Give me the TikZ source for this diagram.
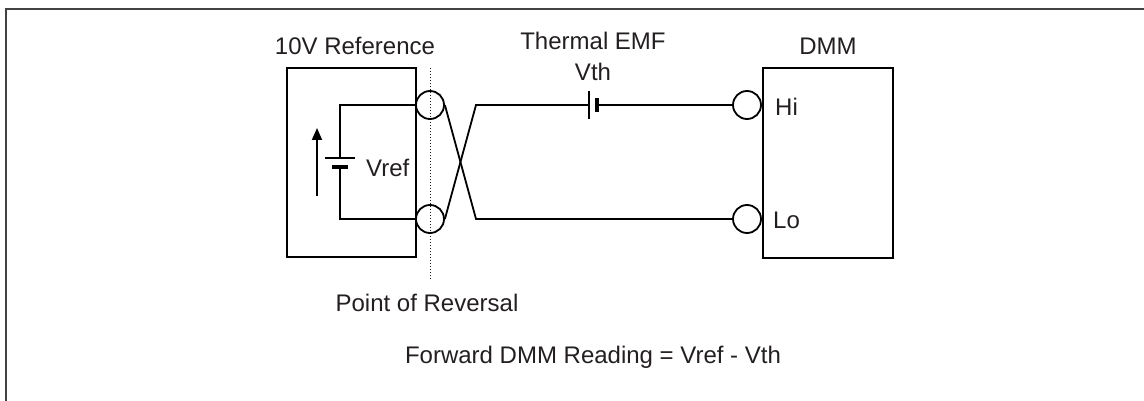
\documentclass[tikz,border=0pt]{standalone}
\usepackage{fontspec}
\setmainfont{Liberation Sans}
\usetikzlibrary{arrows.meta}
\definecolor{ink}{HTML}{231F20}
\begin{document}
\begin{tikzpicture}[x=1pt,y=-1pt,
  wire/.style={line width=1.8pt,draw=black},
  term/.style={circle,draw=black,line width=1.8pt,minimum size=28pt,inner sep=0pt},
  box/.style={draw=black,line width=1.8pt,inner sep=0pt},
  lbl/.style={text=ink,font=\fontsize{24}{28}\selectfont,inner sep=0pt}]
\useasboundingbox (0,0) rectangle (1144,401);
% frame
\draw[line width=2pt,draw=ink!85] (6,401) -- (6,9) -- (1144,9);
% boxes
\node[box,minimum width=129pt,minimum height=189pt] (ref) at (351.5,162.5) {};
\node[box,minimum width=130pt,minimum height=190pt] (dmm) at (828,163) {};
% labels
\node[lbl] (reflbl) at (355,46) {10V Reference};
\node[lbl] (dmmlbl) at (828,46) {DMM};
\node[lbl] (emf) at (593,41) {Thermal EMF};
\node[lbl] (vth) at (593,72) {Vth};
\node[lbl,anchor=west] (vref) at (366,168) {Vref};
\node[lbl,anchor=west] (hi) at (775,107) {Hi};
\node[lbl,anchor=west] (lo) at (773,220) {Lo};
\node[lbl] (por) at (427,303) {Point of Reversal};
\node[lbl] (fwd) at (593,357) {Forward DMM Reading = Vref - Vth};
% dotted reversal line
\draw[line width=1pt,dotted,draw=ink] (430,68) -- (430,280);
% terminals
\node[term] (t1) at (430,105) {};
\node[term] (t2) at (430,219) {};
\node[term] (d1) at (747,105) {};
\node[term] (d2) at (747,219) {};
% inner source wiring
\coordinate (a1) at (340,105);
\coordinate (a2) at (340,219);
\draw[wire] (t1.west) -- (a1) -- (340,158);
\draw[wire] (t2.west) -- (a2) -- (340,167);
\draw[wire] (325,158) -- (355,158);
\draw[line width=4.5pt] (332,167) -- (348,167);
% Vref arrow
\draw[line width=1.8pt,-{Triangle[length=12pt,width=10pt]}] (317,196) -- (317,128);
% crossed wires
\coordinate (x1) at (476,105);
\coordinate (x2) at (476,219);
\draw[wire] (t1.east) -- (x2) -- (d2.west);
\draw[wire] (t2.east) -- (x1) -- (589,105);
\draw[wire] (589,91) -- (589,119);
\draw[line width=4.5pt] (597,98) -- (597,112);
\draw[wire] (597,105) -- (d1.west);
\end{tikzpicture}
\end{document}
